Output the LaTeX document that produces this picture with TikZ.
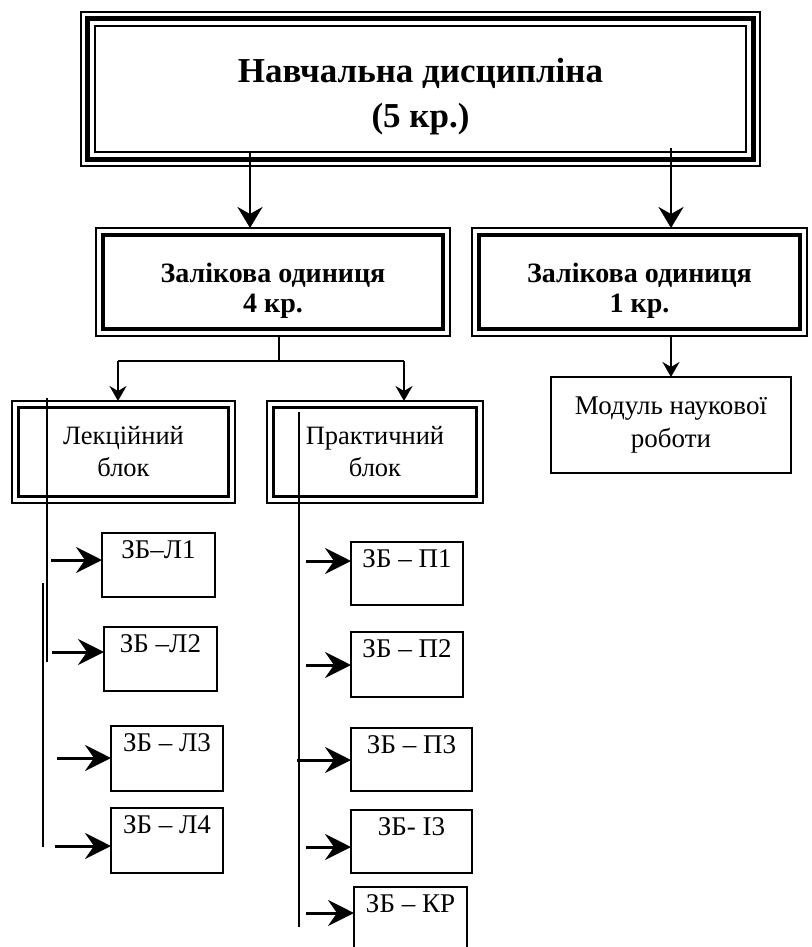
\documentclass[tikz,border=0pt]{standalone}
\usepackage{fontspec}
\setmainfont{Liberation Serif}
\usetikzlibrary{arrows.meta,calc}
\begin{document}
\begin{tikzpicture}[x=1pt,y=-1pt,
  every node/.style={inner sep=0pt,outer sep=0pt},
  bigarr/.style={-{Stealth[length=21pt,width=25pt,inset=7pt]},line width=2.6pt},
  midarr/.style={-{Stealth[length=15pt,width=17pt,inset=5pt]},line width=2.4pt},
  harr/.style={-{Stealth[length=26pt,width=26pt,inset=9pt]},line width=3pt},
  vline/.style={line width=2pt},
  topbox/.style={draw,line width=1.2pt,align=center,font=\bfseries\fontsize{35}{45}\selectfont},
  zbox/.style={draw,line width=1.2pt,align=center,font=\bfseries\fontsize{28}{30}\selectfont},
  blockbox/.style={draw,line width=1.1pt,align=center,font=\fontsize{26.5}{32}\selectfont},
  modbox/.style={draw,line width=1.4pt,align=center,font=\fontsize{27}{33}\selectfont},
  zb/.style={draw,line width=1.6pt,font=\fontsize{27}{30}\selectfont,text height=25pt},
]
\useasboundingbox (0,0) rectangle (811,947);

% top box
\node[topbox,minimum width=679,minimum height=154] (top) at (420.5,89) {\rule{0pt}{39pt}Навчальна дисципліна\\(5 кр.)};
\draw[line width=5pt] ($(top.north west)+(6.5,6.5)$) rectangle ($(top.south east)+(-6.5,-6.5)$);
\draw[line width=1.1pt] ($(top.north west)+(14,14)$) rectangle ($(top.south east)+(-14,-14)$);

% credit units
\node[zbox,minimum width=354,minimum height=108] (z1) at (273,282) {\rule{0pt}{37pt}Залікова одиниця\\4 кр.};
\draw[line width=4.5pt] ($(z1.north west)+(7,7)$) rectangle ($(z1.south east)+(-7,-7)$);
\node[zbox,minimum width=335,minimum height=108] (z2) at (639.5,282) {\rule{0pt}{36pt}Залікова одиниця\\1 кр.};
\draw[line width=4.5pt] ($(z2.north west)+(7,7)$) rectangle ($(z2.south east)+(-7,-7)$);

\coordinate (a1) at (250,152);
\coordinate (a2) at (671,148);
\draw[bigarr] (a1) -- (a1 |- z1.north);
\draw[bigarr] (a2) -- (a2 |- z2.north);

% research module
\node[modbox,minimum width=240,minimum height=96] (mod) at (671,425) {Модуль наукової\\роботи};
\draw[midarr] (z2.south -| mod.north) -- (mod.north);

% blocks
\node[blockbox,minimum width=223,minimum height=102] (lek) at (123.5,452) {Лекційний\\блок};
\draw[line width=2.8pt] ($(lek.north west)+(6.5,6.5)$) rectangle ($(lek.south east)+(-6.5,-6.5)$);
\node[blockbox,minimum width=216,minimum height=102] (prak) at (375,452) {Практичний\\блок};
\draw[line width=2.8pt] ($(prak.north west)+(6.5,6.5)$) rectangle ($(prak.south east)+(-6.5,-6.5)$);

\coordinate (b0) at (279,361);
\coordinate (bl) at (118,361);
\coordinate (br) at (404,361);
\draw[vline] (b0 |- z1.south) -- (b0);
\draw[vline] (bl) -- (br);
\draw[midarr] (bl) -- (bl |- lek.north);
\draw[midarr] (br) -- (br |- prak.north);

% lecture sub-blocks
\node[zb,minimum width=113,minimum height=64,text depth=39pt] (l1) at (158.5,565) {ЗБ–Л1};
\node[zb,minimum width=113,minimum height=64,text depth=39pt] (l2) at (160.5,659) {ЗБ –Л2};
\node[zb,minimum width=112,minimum height=65,text depth=40pt] (l3) at (167,758.5) {ЗБ – Л3};
\node[zb,minimum width=112,minimum height=65,text depth=40pt] (l4) at (167,840.5) {ЗБ – Л4};

\coordinate (v1a) at (47,398);
\coordinate (v1b) at (47,662);
\coordinate (v2a) at (43,583);
\coordinate (v2b) at (43,847);
\draw[vline] (v1a) -- (v1b);
\draw[vline] (v2a) -- (v2b);

\coordinate (h1) at (51,560);
\coordinate (h2) at (52,652);
\coordinate (h3) at (57,758);
\coordinate (h4) at (55,846);
\draw[harr] (h1) -- (h1 -| l1.west);
\draw[harr] (h2) -- (h2 -| l2.west);
\draw[harr] (h3) -- (h3 -| l3.west);
\draw[harr] (h4) -- (h4 -| l4.west);

% practical sub-blocks
\node[zb,minimum width=112,minimum height=63,text depth=38pt] (p1) at (407,573.5) {ЗБ – П1};
\node[zb,minimum width=112,minimum height=65,text depth=40pt] (p2) at (407,664.5) {ЗБ – П2};
\node[zb,minimum width=121,minimum height=63,text depth=38pt] (p3) at (411.5,759.5) {ЗБ – П3};
\node[zb,minimum width=121,minimum height=63,text depth=38pt] (i3) at (411.5,841.5) {ЗБ- І3};
\node[zb,minimum width=113,minimum height=73,text depth=48pt] (kr) at (410.5,923.5) {ЗБ – КР};

\coordinate (v3a) at (299,412);
\coordinate (v3b) at (299,927);
\draw[vline] (v3a) -- (v3b);

\coordinate (g1) at (306,561);
\coordinate (g2) at (306,665);
\coordinate (g3) at (297,760);
\coordinate (g4) at (306,847);
\coordinate (g5) at (306,913);
\draw[harr] (g1) -- (g1 -| p1.west);
\draw[harr] (g2) -- (g2 -| p2.west);
\draw[harr] (g3) -- (g3 -| p3.west);
\draw[harr] (g4) -- (g4 -| i3.west);
\draw[harr] (g5) -- (g5 -| kr.west);
\end{tikzpicture}
\end{document}
